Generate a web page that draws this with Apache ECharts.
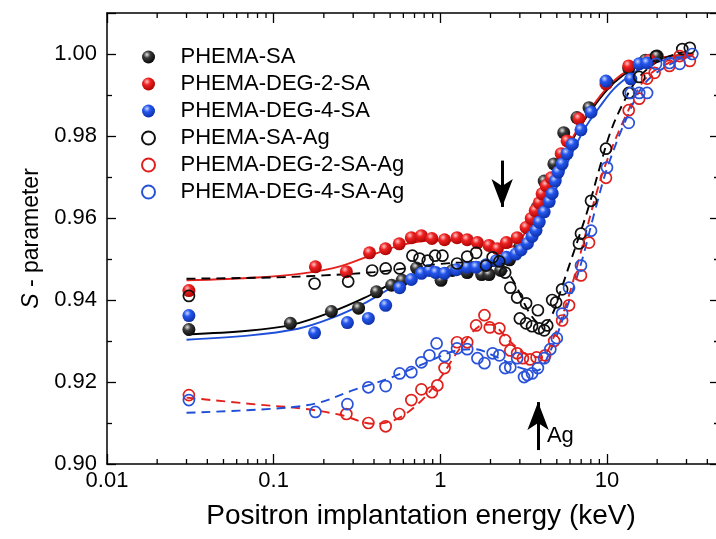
<!DOCTYPE html>
<html>
<head>
<meta charset="utf-8">
<script src="https://cdn.jsdelivr.net/npm/echarts@6.0.0/dist/echarts.min.js"></script>
<style>
  html, body { margin: 0; padding: 0; background: #fff; }
  #chart { width: 716px; height: 539px; }
</style>
</head>
<body>
<div id="chart"></div>
<script>
// measured points, [energy keV, S]
const phemaSA = [[0.031,0.9328],[0.126,0.9343],[0.222,0.9372],[0.323,0.9380],[0.414,0.9420],[0.51,0.9436],[0.59,0.9448],[0.72,0.9478],[1.01,0.9448],[1.18,0.9472],[1.45,0.9467],[1.77,0.9462],[1.96,0.9462],[2.3,0.9472],[2.6,0.9498],[3.0,0.9530],[3.4,0.9575],[3.8,0.9625],[4.2,0.9690],[4.8,0.9732],[5.5,0.9808],[6.6,0.9845],[7.8,0.9869],[10.0,0.9930],[13.5,0.9965],[17.0,0.9985],[20.0,0.9995]];
const phemaDeg2SA = [[0.031,0.9423],[0.178,0.9481],[0.273,0.9469],[0.376,0.9515],[0.469,0.9525],[0.567,0.9537],[0.67,0.9552],[0.77,0.9557],[0.89,0.9550],[1.06,0.9547],[1.26,0.9552],[1.45,0.9547],[1.67,0.9540],[1.96,0.9533],[2.2,0.9525],[2.49,0.9540],[2.89,0.9552],[3.27,0.9577],[3.51,0.9599],[3.71,0.9618],[3.92,0.9637],[4.08,0.9659],[4.32,0.9679],[4.63,0.9698],[5.31,0.9757],[5.76,0.9788],[6.79,0.9842],[9.86,0.9927],[13.5,0.9971],[18.0,0.9985]];
const phemaDeg4SA = [[0.031,0.9362],[0.176,0.9320],[0.277,0.9345],[0.37,0.9355],[0.47,0.9387],[0.57,0.9430],[0.67,0.9450],[0.77,0.9465],[0.86,0.9472],[0.94,0.9467],[1.06,0.9465],[1.25,0.9474],[1.45,0.9480],[1.64,0.9480],[1.88,0.9486],[2.17,0.9496],[2.49,0.9504],[2.84,0.9512],[3.05,0.9522],[3.33,0.9538],[3.55,0.9555],[3.75,0.9570],[3.92,0.9590],[4.2,0.9615],[4.5,0.9640],[4.69,0.9660],[4.89,0.9690],[5.1,0.9712],[5.38,0.9732],[5.76,0.9757],[6.2,0.9780],[6.98,0.9815],[8.02,0.9858],[9.86,0.9934],[13.9,0.9939],[15.6,0.9976],[17.4,0.9978]];
const phemaSAAg = [[0.031,0.9410],[0.176,0.9440],[0.28,0.9445],[0.39,0.9472],[0.47,0.9477],[0.57,0.9477],[0.68,0.9508],[0.75,0.9501],[0.84,0.9496],[0.93,0.9508],[1.03,0.9508],[1.26,0.9489],[1.45,0.9506],[1.64,0.9515],[1.88,0.9484],[2.06,0.9504],[2.26,0.9494],[2.45,0.9467],[2.63,0.9430],[2.89,0.9406],[3.0,0.9355],[3.27,0.9392],[3.27,0.9343],[3.55,0.9336],[3.85,0.9375],[3.92,0.9331],[4.2,0.9326],[4.38,0.9338],[4.69,0.9400],[4.95,0.9394],[5.38,0.9426],[6.79,0.9538],[6.98,0.9562],[8.02,0.9642],[9.86,0.9769],[13.5,0.9905],[15.6,0.9944],[19.7,0.9995],[28.3,1.0012],[31.4,1.0015]];
const phemaDeg2SAAg = [[0.031,0.9168],[0.273,0.9122],[0.37,0.9100],[0.47,0.9092],[0.567,0.9122],[0.67,0.9156],[0.77,0.9182],[0.89,0.9175],[0.96,0.9192],[1.06,0.9234],[1.26,0.9297],[1.45,0.9297],[1.64,0.9338],[1.84,0.9363],[1.98,0.9333],[2.26,0.9331],[2.45,0.9302],[2.63,0.9277],[2.89,0.9270],[3.13,0.9258],[3.46,0.9255],[3.78,0.9260],[4.26,0.9265],[4.82,0.9300],[5.38,0.9350],[5.92,0.9387],[6.98,0.9460],[7.8,0.9540],[9.86,0.9698],[13.5,0.9863],[15.6,0.9891],[17.4,0.9940],[19.3,0.9954],[23.7,0.9971],[27.3,0.9995],[31.4,0.9983]];
const phemaDeg4SAAg = [[0.031,0.9156],[0.178,0.9127],[0.277,0.9146],[0.37,0.9187],[0.47,0.9190],[0.57,0.9221],[0.67,0.9224],[0.77,0.9248],[0.86,0.9265],[0.95,0.9294],[1.06,0.9263],[1.26,0.9282],[1.45,0.9280],[1.67,0.9258],[1.84,0.9246],[2.06,0.9270],[2.26,0.9265],[2.45,0.9234],[2.63,0.9236],[2.89,0.9258],[3.18,0.9212],[3.33,0.9217],[3.55,0.9221],[3.85,0.9234],[4.2,0.9258],[4.57,0.9280],[5.0,0.9307],[5.38,0.9367],[5.92,0.9430],[6.98,0.9484],[8.02,0.9569],[10.0,0.9723],[13.5,0.9832],[13.9,0.9905],[15.6,0.9905],[17.4,0.9905],[19.7,0.9976],[23.7,0.9978],[27.3,0.9976],[32.5,1.0000]];

// fitted curves
const fitSA = [[0.03,0.9316],[0.07,0.9325],[0.13,0.9340],[0.22,0.9370],[0.35,0.9405],[0.5,0.9438],[0.7,0.9462],[1.0,0.9475],[1.5,0.9480],[2.2,0.9485],[2.8,0.9505],[3.3,0.9545],[3.8,0.9600],[4.4,0.9660],[5.1,0.9720],[6.0,0.9780],[7.2,0.9835],[9,0.9890],[11,0.9930],[14,0.9962],[18,0.9982],[25,0.9995],[33,1.0000]];
const fitDeg2SA = [[0.03,0.9448],[0.08,0.9455],[0.15,0.9465],[0.25,0.9482],[0.4,0.9512],[0.6,0.9535],[0.9,0.9545],[1.3,0.9545],[1.8,0.9535],[2.3,0.9527],[2.7,0.9530],[3.1,0.9553],[3.5,0.9595],[4.0,0.9645],[4.6,0.9695],[5.3,0.9745],[6.3,0.9800],[7.5,0.9850],[9,0.9895],[11,0.9935],[14,0.9965],[18,0.9985],[25,0.9995],[33,1.0000]];
const fitDeg4SA = [[0.03,0.9303],[0.07,0.9313],[0.14,0.9330],[0.22,0.9355],[0.35,0.9392],[0.5,0.9428],[0.7,0.9458],[1.0,0.9474],[1.5,0.9482],[2.2,0.9490],[2.8,0.9505],[3.4,0.9535],[4.0,0.9585],[4.6,0.9640],[5.3,0.9700],[6.2,0.9760],[7.4,0.9820],[9,0.9870],[11,0.9915],[14,0.9950],[18,0.9975],[25,0.9990],[33,0.9995]];
const fitSAAg = [[0.03,0.9452],[0.1,0.9455],[0.2,0.9460],[0.4,0.9468],[0.7,0.9480],[1.0,0.9488],[1.5,0.9492],[2.0,0.9490],[2.4,0.9478],[2.8,0.9440],[3.3,0.9380],[3.8,0.9345],[4.2,0.9340],[4.7,0.9365],[5.3,0.9425],[6.0,0.9490],[6.8,0.9555],[7.8,0.9630],[9.0,0.9720],[10.5,0.9810],[12.5,0.9880],[15,0.9935],[19,0.9975],[25,0.9998],[32,1.0008]];
const fitDeg2SAAg = [[0.03,0.9162],[0.08,0.9145],[0.15,0.9135],[0.25,0.9120],[0.4,0.9098],[0.55,0.9110],[0.75,0.9150],[1.0,0.9210],[1.3,0.9280],[1.7,0.9335],[2.0,0.9340],[2.6,0.9300],[3.2,0.9270],[4.0,0.9260],[4.8,0.9310],[5.8,0.9400],[7,0.9520],[8.5,0.9650],[10,0.9740],[13,0.9850],[17,0.9940],[24,0.9980],[32,0.9995]];
const fitDeg4SAAg = [[0.03,0.9125],[0.1,0.9135],[0.18,0.9148],[0.3,0.9180],[0.5,0.9210],[0.8,0.9245],[1.2,0.9275],[1.6,0.9280],[2.2,0.9260],[3.0,0.9235],[3.8,0.9228],[4.5,0.9270],[5.5,0.9360],[7,0.9490],[8.5,0.9620],[10,0.9720],[13,0.9840],[17,0.9930],[24,0.9975],[32,0.9995]];

const seriesNames = ['PHEMA-SA', 'PHEMA-DEG-2-SA', 'PHEMA-DEG-4-SA', 'PHEMA-SA-Ag', 'PHEMA-DEG-2-SA-Ag', 'PHEMA-DEG-4-SA-Ag'];
const xMinorTicks = [0.02,0.03,0.04,0.05,0.06,0.07,0.08,0.09,0.2,0.3,0.4,0.5,0.6,0.7,0.8,0.9,2,3,4,5,6,7,8,9,20,30,40];
const xTickLabels = { 0.01: '0.01', 0.1: '0.1', 1: '1', 10: '10' };

const xMin = 0.01, xMax = 47, yMin = 0.90, yMax = 1.01;
const FONT = '"Liberation Sans", Arial, sans-serif';

function sphere(light, mid, dark) {
  return {
    type: 'radial', x: 0.38, y: 0.32, r: 0.75,
    colorStops: [
      { offset: 0, color: light },
      { offset: 0.35, color: mid },
      { offset: 1, color: dark }
    ]
  };
}

function filled(name, data, grad) {
  return {
    name: name, type: 'scatter', data: data, z: 4,
    symbol: 'circle', symbolSize: 13,
    itemStyle: { color: grad, opacity: 1 }
  };
}

function hollow(name, data, color) {
  return {
    name: name, type: 'scatter', data: data, z: 5,
    symbol: 'circle', symbolSize: 11,
    itemStyle: { color: 'rgba(255,255,255,0)', borderColor: color, borderWidth: 1.7, opacity: 1 }
  };
}

function fit(data, color, dashed) {
  return {
    type: 'line', data: data, z: 3, smooth: 0.35,
    showSymbol: false, silent: true,
    lineStyle: { color: color, width: 1.9, type: dashed ? [9, 6] : 'solid' }
  };
}

const axisLine = { show: true, lineStyle: { color: '#000', width: 1.5 } };

const chart = echarts.init(document.getElementById('chart'));

const scatterSA = filled(seriesNames[0], phemaSA, sphere('#e4e4e4', '#3a3a3a', '#000'));
// arrows and the Ag note
scatterSA.markLine = {
  silent: true,
  symbol: ['none', 'arrow'],
  symbolSize: [16, 28],
  label: { show: false },
  lineStyle: { color: '#000', width: 3, type: 'solid' },
  data: [
    [{ coord: [2.35, 0.974] }, { coord: [2.35, 0.9627] }],
    [{ coord: [3.86, 0.9034] }, { coord: [3.86, 0.9151] }]
  ]
};
scatterSA.markPoint = {
  silent: true,
  symbol: 'circle', symbolSize: 1,
  itemStyle: { color: 'rgba(0,0,0,0)' },
  label: { show: true, position: 'inside', formatter: 'Ag', color: '#000', fontSize: 22, fontFamily: FONT },
  data: [{ coord: [5.25, 0.9068] }]
};

const option = {
  backgroundColor: '#fff',
  animation: false,
  grid: { left: 107, right: -3, top: 13, bottom: 75, containLabel: false, outerBoundsMode: 'none' },
  legend: {
    data: seriesNames,
    orient: 'vertical',
    left: 136, top: 41,
    itemWidth: 54, itemHeight: 13, itemGap: 5,
    icon: 'circle',
    textStyle: { fontSize: 22, fontFamily: FONT, color: '#000' }
  },
  xAxis: [{
    type: 'log', min: xMin, max: xMax, logBase: 10,
    name: 'Positron implantation energy (keV)',
    nameLocation: 'middle', nameGap: 38,
    nameTextStyle: { fontSize: 28, fontFamily: FONT, color: '#000', padding: [0, 0, 0, 16] },
    axisLine: axisLine,
    axisTick: { show: true, inside: true, length: 10, lineStyle: { color: '#000', width: 1.3 } },
    axisLabel: {
      margin: 6, fontSize: 22, fontFamily: FONT, color: '#000', showMaxLabel: false,
      formatter: function (v) { return xTickLabels[v] !== undefined ? xTickLabels[v] : ''; }
    },
    splitLine: { show: false }
  }, {
    type: 'log', min: xMin, max: xMax, logBase: 10, position: 'top',
    axisLine: axisLine,
    axisTick: { show: true, inside: true, length: 10, lineStyle: { color: '#000', width: 1.3 } },
    axisLabel: { show: false },
    splitLine: { show: false }
  }],
  yAxis: [{
    type: 'value', min: yMin, max: yMax, interval: 0.02,
    name: '{i|S} - parameter',
    nameLocation: 'middle', nameGap: 62,
    nameTextStyle: { fontSize: 23, fontFamily: FONT, color: '#000', rich: { i: { fontStyle: 'italic', fontSize: 23, fontFamily: FONT, color: '#000' } } },
    axisLine: axisLine,
    axisTick: { show: true, inside: true, length: 9, lineStyle: { color: '#000', width: 1.3 } },
    minorTick: { show: true, splitNumber: 2, length: 5, lineStyle: { color: '#000', width: 1.3 } },
    axisLabel: {
      margin: 10, fontSize: 22, fontFamily: FONT, color: '#000', showMaxLabel: false,
      formatter: function (v) { return v.toFixed(2); }
    },
    splitLine: { show: false }, minorSplitLine: { show: false }
  }, {
    type: 'value', min: yMin, max: yMax, interval: 0.02, position: 'right',
    axisLine: axisLine,
    axisTick: { show: true, inside: true, length: 9, lineStyle: { color: '#000', width: 1.3 } },
    minorTick: { show: true, splitNumber: 2, length: 5, lineStyle: { color: '#000', width: 1.3 } },
    axisLabel: { show: false },
    splitLine: { show: false }, minorSplitLine: { show: false }
  }],
  series: [
    fit(fitSA, '#000', false),
    fit(fitDeg2SA, '#e3211c', false),
    fit(fitDeg4SA, '#1f4fd8', false),
    fit(fitSAAg, '#000', true),
    fit(fitDeg2SAAg, '#e3211c', true),
    fit(fitDeg4SAAg, '#1f4fd8', true),
    scatterSA,
    filled(seriesNames[1], phemaDeg2SA, sphere('#ffc6c6', '#ee2222', '#a40000')),
    filled(seriesNames[2], phemaDeg4SA, sphere('#c8d6ff', '#2456ee', '#0b2b9e')),
    hollow(seriesNames[3], phemaSAAg, '#111'),
    hollow(seriesNames[4], phemaDeg2SAAg, '#e0201c'),
    hollow(seriesNames[5], phemaDeg4SAAg, '#2a52d8'),
    {
      // minor ticks of the log axis, bottom and top
      type: 'custom', silent: true, clip: false, z: 6,
      data: xMinorTicks.map(function (v) { return [v, yMin]; }),
      renderItem: function (params, api) {
        const b = api.coord([api.value(0), yMin]);
        const t = api.coord([api.value(0), yMax]);
        const st = { stroke: '#000', lineWidth: 1.3 };
        return {
          type: 'group',
          children: [
            { type: 'line', shape: { x1: b[0], y1: b[1], x2: b[0], y2: b[1] - 5 }, style: st },
            { type: 'line', shape: { x1: t[0], y1: t[1], x2: t[0], y2: t[1] + 5 }, style: st }
          ]
        };
      }
    }
  ]
};

chart.setOption(option);
</script>
</body>
</html>
